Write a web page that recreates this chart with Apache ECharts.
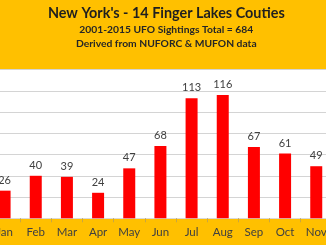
<!DOCTYPE html>
<html><head><meta charset="utf-8">
<script src="https://cdn.jsdelivr.net/npm/echarts@6/dist/echarts.min.js"></script>
<style>html,body{margin:0;padding:0;background:#FFC000;overflow:hidden;width:326px;height:245px}
#c{position:absolute;left:-11.3px;top:0;width:374.3px;height:245px}</style>
</head><body><div id="c"></div>
<script>
var months = ['Jan','Feb','Mar','Apr','May','Jun','Jul','Aug','Sep','Oct','Nov','Dec'];
var sightings = [26,40,39,24,47,68,113,116,67,61,49,34];
var titleText = "New York's - 14 Finger Lakes Couties";
var subLine1 = '2001-2015 UFO Sightings Total = 684';
var subLine2 = 'Derived from NUFORC & MUFON data';

var cx = 161 + 11.3;
var chart = echarts.init(document.getElementById('c'), null, {renderer:'canvas'});
chart.setOption({
  backgroundColor: '#FFC000',
  animation: false,
  title: [
    {text: titleText, left: cx, top: 1, textAlign: 'center',
     textStyle: {fontFamily: 'Lato', fontWeight: 'bold', fontSize: 14.4, color: '#1f1f1f'}},
    {text: subLine1, left: cx, top: 19.5, textAlign: 'center',
     textStyle: {fontFamily: 'Lato', fontWeight: 'bold', fontSize: 10.3, color: '#262626'}},
    {text: subLine2, left: cx, top: 33.5, textAlign: 'center',
     textStyle: {fontFamily: 'Lato', fontWeight: 'bold', fontSize: 10.3, color: '#262626'}}
  ],
  grid: {left: 0, right: 0, top: 69.5, height: 148.8, show: true,
         backgroundColor: '#ffffff', borderWidth: 0},
  xAxis: {
    type: 'category', data: months,
    axisLine: {show: true, lineStyle: {color: '#d9d9d9', width: 1}},
    axisTick: {show: true, length: 4, lineStyle: {color: '#c9a640'}},
    axisLabel: {interval: 0, fontFamily: 'Lato', fontSize: 11.5, color: '#404040', margin: 8}
  },
  yAxis: {
    type: 'value', min: 0, max: 140, interval: 20,
    axisLabel: {show: false}, axisLine: {show: false}, axisTick: {show: false},
    splitLine: {lineStyle: {color: '#d4d4d4', width: 1}}
  },
  series: [{
    type: 'bar', data: sightings, barWidth: 12,
    itemStyle: {color: '#FF0000'},
    label: {show: true, position: 'top', distance: 5,
            fontFamily: 'Lato', fontSize: 11, color: '#404040'}
  }]
});
</script></body></html>
